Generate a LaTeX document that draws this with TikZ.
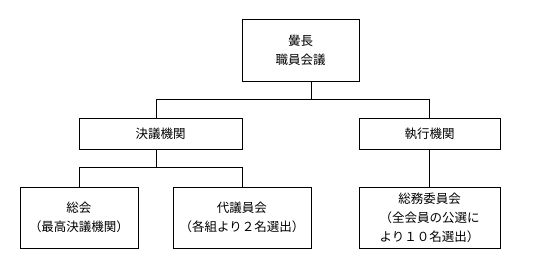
\documentclass[tikz,border=0pt]{standalone}
\usepackage{fontspec}
\newfontfamily\jpfont{Noto Sans CJK JP}
\usetikzlibrary{positioning}

\begin{document}
\begin{tikzpicture}[x=1pt, y=1pt,
  orgbox/.style={draw=black, line width=0.9pt, align=center,
    inner sep=0pt, font=\jpfont\fontsize{12.5}{19}\selectfont},
  link/.style={black, line width=0.9pt}]
\useasboundingbox (0,0) rectangle (550,268);
\node[orgbox, minimum width=117pt, minimum height=62pt] (head) at (300.5,218) {黌長\\職員会議};
\node[orgbox, minimum width=163pt, minimum height=31pt] (decide) at (160.5,134.5) {決議機関};
\node[orgbox, minimum width=141pt, minimum height=31pt] (exec) at (429.5,134.5) {執行機関};
\node[orgbox, minimum width=118pt, minimum height=61pt] (soukai) at (79,50.5) {総会\\（最高決議機関）};
\node[orgbox, minimum width=138pt, minimum height=61pt] (daigi) at (242,50.5) {代議員会\\（各組より２名選出）};
\node[orgbox, minimum width=141pt, minimum height=61pt] (soumu) at (429.5,50.5) {総務委員会\\（全会員の公選に\\より１０名選出）};
\draw[link] ([xshift=10.5pt]head.south) -- ++(0,-18) coordinate (jA);
\draw[link] ([xshift=-4.5pt]decide.north) |- (jA) -| (exec.north);
\draw[link] ([xshift=-4.5pt]decide.south) -- ++(0,-18.5) coordinate (jB);
\draw[link] (soukai.north) |- (jB) -| (daigi.north);
\draw[link] (exec.south) -- (soumu.north);
\end{tikzpicture}
\end{document}
